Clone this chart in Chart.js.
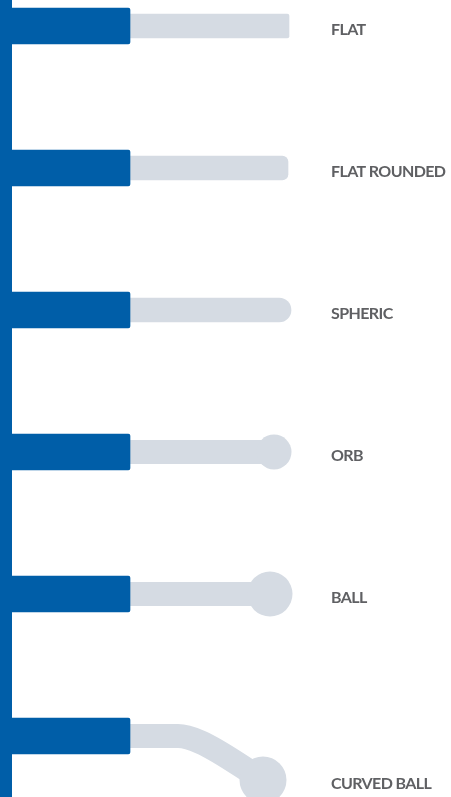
<!DOCTYPE html>
<html>
<head>
<meta charset="utf-8">
<script src="https://cdn.jsdelivr.net/npm/chart.js@4/dist/chart.umd.min.js"></script>
<style>
  html, body { margin: 0; padding: 0; background: #ffffff; }
  #wrap { width: 451px; height: 797px; position: relative; }
</style>
</head>
<body>
<div id="wrap"><canvas id="c" width="451" height="797"></canvas></div>
<script>
// ---- data ----
const tipNames = ['FLAT', 'FLAT ROUNDED', 'SPHERIC', 'ORB', 'BALL', 'CURVED BALL'];
const tipRows = [0, 1, 2, 3, 4, 5];
const shaftStart = [0, 0, 0, 0, 0, 0];
const shaftEnd = [130, 130, 130, 130, 130, 130];
const rodStart = [120, 120, 120, 120, 120, 120];
const rodEnd = [289, 288, 291, 274, 270, 263];
const curvedPathX = [120, 178, 200, 263];
const curvedPathY = [5, 5, 5.042, 5.31];

const BLUE = '#005EA8';
const GRAY = '#D5DBE3';

// straight rods (first three tips) as floating bars
const rodRadius = [2, 6, 12];
const straightRods = [0, 1, 2].map(i => ({ x: [rodStart[i], rodEnd[i]], y: tipRows[i] }));
const shafts = tipRows.map((r, i) => ({ x: [shaftStart[i], shaftEnd[i]], y: r }));

const labelPlugin = {
  id: 'tipLabels',
  afterDatasetsDraw(chart) {
    const { ctx, scales: { x, y } } = chart;
    ctx.save();
    ctx.font = 'bold 16px Lato';
    ctx.fillStyle = '#5f6063';
    ctx.textAlign = 'left';
    ctx.textBaseline = 'alphabetic';
    if ('letterSpacing' in ctx) ctx.letterSpacing = '-0.6px';
    tipNames.forEach((name, i) => {
      const rowVal = i === 5 ? curvedPathY[curvedPathY.length - 1] : tipRows[i];
      ctx.fillText(name, x.getPixelForValue(331), y.getPixelForValue(rowVal) + 9);
    });
    ctx.restore();
  }
};

const rowPx = 142;
const yMin = -26 / rowPx;
const yMax = yMin + 797 / rowPx;

const ballLine = (i, radius) => ({
  type: 'line',
  data: [{ x: rodStart[i], y: tipRows[i] }, { x: rodEnd[i], y: tipRows[i] }],
  borderColor: GRAY,
  backgroundColor: GRAY,
  borderWidth: 24,
  borderCapStyle: 'butt',
  pointRadius: [0, radius],
  pointBackgroundColor: GRAY,
  pointBorderWidth: 0,
  pointHoverRadius: [0, radius],
  order: 5
});

new Chart(document.getElementById('c'), {
  type: 'scatter',
  data: {
    datasets: [
      {
        type: 'line',
        data: [{ x: 6, y: yMin }, { x: 6, y: yMax }],
        borderColor: BLUE,
        borderWidth: 12,
        borderCapStyle: 'butt',
        pointRadius: 0,
        order: 0
      },
      {
        type: 'bar',
        indexAxis: 'y',
        grouped: false,
        data: shafts,
        backgroundColor: BLUE,
        barThickness: 36,
        borderRadius: 2,
        borderSkipped: false,
        order: 1
      },
      {
        type: 'bar',
        indexAxis: 'y',
        grouped: false,
        data: straightRods,
        backgroundColor: GRAY,
        barThickness: 24,
        borderRadius: (ctx) => {
          const r = rodRadius[ctx.dataIndex] || 0;
          return { topLeft: 0, bottomLeft: 0, topRight: r, bottomRight: r };
        },
        borderSkipped: false,
        order: 5
      },
      ballLine(3, 17.5),
      ballLine(4, 22.5),
      {
        type: 'line',
        data: curvedPathX.map((v, k) => ({ x: v, y: curvedPathY[k] })),
        borderColor: GRAY,
        borderWidth: 24,
        borderCapStyle: 'butt',
        borderJoinStyle: 'round',
        cubicInterpolationMode: 'monotone',
        pointRadius: [0, 0, 0, 23.5],
        pointBackgroundColor: GRAY,
        pointBorderWidth: 0,
        clip: false,
        order: 5
      }
    ]
  },
  options: {
    responsive: false,
    animation: false,
    events: [],
    layout: { padding: 0, autoPadding: false },
    plugins: { legend: { display: false }, tooltip: { enabled: false } },
    scales: {
      x: { type: 'linear', min: 0, max: 451, display: false, offset: false, bounds: 'data', grace: 0 },
      y: { type: 'linear', min: yMin, max: yMax, reverse: true, display: false, offset: false, bounds: 'data', grace: 0 }
    }
  },
  plugins: [labelPlugin]
});
</script>
</body>
</html>
